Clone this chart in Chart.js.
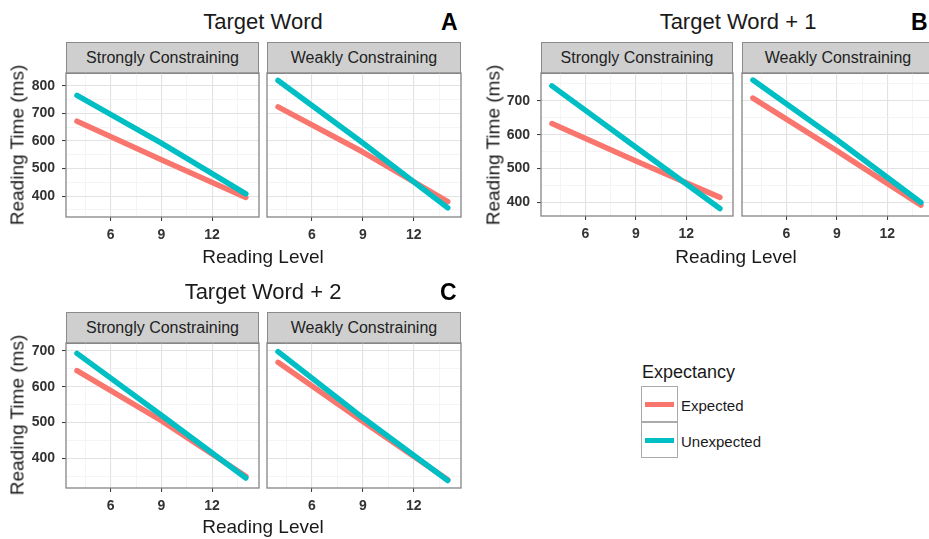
<!DOCTYPE html>
<html>
<head>
<meta charset="utf-8">
<script src="https://cdn.jsdelivr.net/npm/chart.js@4.4.1/dist/chart.umd.min.js"></script>
<style>
  html, body { margin: 0; padding: 0; background: #fff; overflow: hidden; width: 929px; height: 539px; }
  body { position: relative; font-family: "Liberation Sans", Arial, sans-serif; color: #1a1a1a; }
  .abs { position: absolute; white-space: nowrap; }
  .title { font-size: 22px; transform: translate(-50%, -50%); line-height: 1; }
  .tag { font-size: 23px; font-weight: bold; color: #000; transform: translateY(-50%); line-height: 1; }
  .strip { background: #cfcfcf; border: 1px solid #8a8a8a; box-sizing: border-box; font-size: 16px; color: #222;
           display: flex; align-items: center; justify-content: center; }
  .xtitle { font-size: 19px; transform: translate(-50%, -50%); line-height: 1; }
  .ytitle { font-size: 19px; transform: translate(-50%, -50%) rotate(-90deg); line-height: 1; }
  .legTitle { font-size: 18px; transform: translateY(-50%); line-height: 1; }
  .legKey { width: 37px; height: 36px; border: 1px solid #aaa; box-sizing: border-box; background: #fff; }
  .legKey span { position: absolute; left: 3px; right: 3px; top: 50%; height: 5px; margin-top: -2.5px; }
  .legLabel { font-size: 15px; transform: translateY(-50%); line-height: 1; }
  canvas { position: absolute; }
</style>
</head>
<body>
<script>
// ---- data ----
const readingLevel = [4, 9, 14];
const xTicks = [6, 9, 12];
const facets = ['Strongly Constraining', 'Weakly Constraining'];
const expectancy = ['Expected', 'Unexpected'];
const panelTitles = ['Target Word', 'Target Word + 1', 'Target Word + 2'];
const panelTags = ['A', 'B', 'C'];
const yTicksTarget = [400, 500, 600, 700, 800];
const yTicksPlus1 = [400, 500, 600, 700];
const yTicksPlus2 = [400, 500, 600, 700];

const targetStrongExpected   = [672, 532, 395];
const targetStrongUnexpected = [766, 592, 408];
const targetWeakExpected     = [724, 560, 380];
const targetWeakUnexpected   = [820, 593, 357];

const plus1StrongExpected    = [633, 522, 415];
const plus1StrongUnexpected  = [744, 563, 382];
const plus1WeakExpected      = [708, 552, 392];
const plus1WeakUnexpected    = [761, 585, 400];

const plus2StrongExpected    = [645, 505, 350];
const plus2StrongUnexpected  = [693, 520, 345];
const plus2WeakExpected      = [668, 503, 340];
const plus2WeakUnexpected    = [698, 513, 338];

// ---- styling / layout ----
const COLORS = ['#F8766D', '#00BFC4'];
const X_RANGE = [3.35, 14.78];
const Y_W = 52, X_H = 34, PAD = 2;
const TICK_FONT = { family: '"Liberation Sans", Arial, sans-serif', size: 14, weight: 'bold' };
const TICK_COLOR = '#333';

const groups = [
  { title: panelTitles[0], tag: panelTags[0], yTicks: yTicksTarget, yRange: [324, 847],
    series: [[targetStrongExpected, targetStrongUnexpected], [targetWeakExpected, targetWeakUnexpected]],
    plots: [[66, 73, 193, 144], [267, 73, 194, 144]], stripTop: 42,
    titlePos: [263, 22], tagPos: [441, 22], xTitlePos: [263, 256], yTitlePos: [17, 145] },
  { title: panelTitles[1], tag: panelTags[1], yTicks: yTicksPlus1, yRange: [360, 782],
    series: [[plus1StrongExpected, plus1StrongUnexpected], [plus1WeakExpected, plus1WeakUnexpected]],
    plots: [[541, 73, 192, 143], [742, 73, 192, 143]], stripTop: 42,
    titlePos: [738, 22], tagPos: [911, 22], xTitlePos: [736, 256], yTitlePos: [493, 145] },
  { title: panelTitles[2], tag: panelTags[2], yTicks: yTicksPlus2, yRange: [317, 722],
    series: [[plus2StrongExpected, plus2StrongUnexpected], [plus2WeakExpected, plus2WeakUnexpected]],
    plots: [[66, 343, 193, 145], [267, 343, 194, 145]], stripTop: 312,
    titlePos: [263, 292], tagPos: [440, 292], xTitlePos: [263, 526], yTitlePos: [17, 415] }
];

function withMinor(ticks, range) {
  const step = ticks[1] - ticks[0];
  const all = [];
  for (let v = ticks[0] - step; v <= ticks[ticks.length - 1] + step; v += step / 2) {
    if (v >= range[0] && v <= range[1]) all.push(v);
  }
  return all;
}

function addDiv(cls, text, x, y, extra) {
  const d = document.createElement('div');
  d.className = 'abs ' + cls;
  d.textContent = text;
  d.style.left = x + 'px';
  d.style.top = y + 'px';
  if (extra) Object.assign(d.style, extra);
  document.body.appendChild(d);
  return d;
}

const panelBorder = {
  id: 'panelBorder',
  afterDatasetsDraw(chart) {
    const { ctx, chartArea: a } = chart;
    ctx.save();
    ctx.strokeStyle = '#858585';
    ctx.lineWidth = 1.3;
    ctx.strokeRect(a.left, a.top, a.right - a.left, a.bottom - a.top);
    ctx.restore();
  }
};

function zeroPadding(s) {
  s.paddingLeft = 0; s.paddingRight = 0; s.paddingTop = 0; s.paddingBottom = 0;
}

function makePanel(plot, showY, g, expected, unexpected) {
  const [px, py, pw, ph] = plot;
  const yw = showY ? Y_W : PAD;
  const canvas = document.createElement('canvas');
  const cw = yw + pw + PAD, ch = PAD + ph + X_H;
  canvas.width = cw; canvas.height = ch;
  canvas.style.width = cw + 'px'; canvas.style.height = ch + 'px';
  canvas.style.left = (px - yw) + 'px';
  canvas.style.top = (py - PAD) + 'px';
  document.body.appendChild(canvas);

  const xAll = withMinor(xTicks, X_RANGE);
  const yAll = withMinor(g.yTicks, g.yRange);
  const xMajor = v => xTicks.includes(v);
  const yMajor = v => g.yTicks.includes(v);
  const gridColor = isMajor => ctx => (ctx.tick && isMajor(ctx.tick.value)) ? '#e2e2e2' : '#f1f1f1';
  const gridWidth = isMajor => ctx => (ctx.tick && isMajor(ctx.tick.value)) ? 1.1 : 0.8;
  const tickColor = isMajor => ctx => (ctx.tick && isMajor(ctx.tick.value)) ? '#333' : 'rgba(0,0,0,0)';

  return new Chart(canvas, {
    type: 'line',
    data: {
      datasets: [
        { label: expectancy[0], data: readingLevel.map((x, i) => ({ x, y: expected[i] })),
          borderColor: COLORS[0], backgroundColor: COLORS[0], order: 2 },
        { label: expectancy[1], data: readingLevel.map((x, i) => ({ x, y: unexpected[i] })),
          borderColor: COLORS[1], backgroundColor: COLORS[1], order: 1 }
      ]
    },
    options: {
      responsive: false,
      animation: false,
      devicePixelRatio: 1,
      layout: { padding: { top: PAD, right: PAD, left: 0, bottom: 0 } },
      plugins: { legend: { display: false }, tooltip: { enabled: false } },
      elements: {
        line: { borderWidth: 5.5, borderCapStyle: 'round', borderJoinStyle: 'round', tension: 0, fill: false },
        point: { radius: 0, hoverRadius: 0 }
      },
      scales: {
        x: {
          type: 'linear', min: X_RANGE[0], max: X_RANGE[1],
          afterBuildTicks: s => { s.ticks = xAll.map(v => ({ value: v })); },
          afterFit: s => { s.height = X_H; zeroPadding(s); },
          ticks: { autoSkip: false, maxRotation: 0, padding: 6, font: TICK_FONT, color: TICK_COLOR,
                   callback: v => xMajor(v) ? String(v) : '' },
          grid: { color: gridColor(xMajor), lineWidth: gridWidth(xMajor), tickLength: 4,
                  tickColor: tickColor(xMajor), tickWidth: 1 },
          border: { display: false }
        },
        y: {
          type: 'linear', min: g.yRange[0], max: g.yRange[1],
          afterBuildTicks: s => { s.ticks = yAll.map(v => ({ value: v })); },
          afterFit: s => { s.width = yw; zeroPadding(s); },
          ticks: { display: showY, autoSkip: false, padding: 7, font: TICK_FONT, color: TICK_COLOR,
                   callback: v => yMajor(v) ? String(v) : '' },
          grid: { color: gridColor(yMajor), lineWidth: gridWidth(yMajor), tickLength: 4, drawTicks: showY,
                  tickColor: tickColor(yMajor), tickWidth: 1 },
          border: { display: false }
        }
      }
    },
    plugins: [panelBorder]
  });
}

groups.forEach(g => {
  addDiv('title', g.title, g.titlePos[0], g.titlePos[1]);
  addDiv('tag', g.tag, g.tagPos[0], g.tagPos[1]);
  g.plots.forEach((plot, i) => {
    addDiv('strip', facets[i], plot[0], g.stripTop, { width: plot[2] + 'px', height: (plot[1] - g.stripTop + 1) + 'px' });
    makePanel(plot, i === 0, g, g.series[i][0], g.series[i][1]);
  });
  addDiv('xtitle', 'Reading Level', g.xTitlePos[0], g.xTitlePos[1]);
  addDiv('ytitle', 'Reading Time (ms)', g.yTitlePos[0], g.yTitlePos[1]);
});

// legend
addDiv('legTitle', 'Expectancy', 642, 372);
expectancy.forEach((name, i) => {
  const key = addDiv('legKey', '', 641, 386 + i * 36);
  const bar = document.createElement('span');
  bar.style.background = COLORS[i];
  key.appendChild(bar);
  addDiv('legLabel', name, 681, 405 + i * 36);
});
</script>
</body>
</html>
